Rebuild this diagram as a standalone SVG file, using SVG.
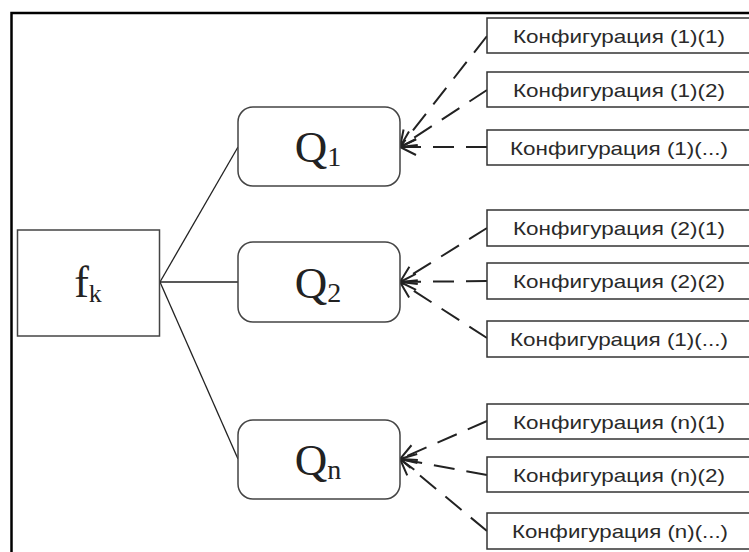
<svg xmlns="http://www.w3.org/2000/svg" width="749" height="552" viewBox="0 0 749 552">
<defs>
<marker id="arr" markerUnits="userSpaceOnUse" markerWidth="30" markerHeight="30" viewBox="-20 -15 30 30" refX="0" refY="0" orient="auto">
<path d="M-16,-8 L0,0 L-16,8" fill="none" stroke="#222" stroke-width="2"/>
</marker>
</defs>
<style>
.frame{fill:none;stroke:#000;stroke-width:2.5}
.fk{fill:#fff;stroke:#444;stroke-width:1.5}
.q{fill:#fff;stroke:#444;stroke-width:1.5}
.cfg{fill:#fff;stroke:#333;stroke-width:1.5}
.ser{font-family:"Liberation Serif","Times New Roman",serif;fill:#222}
.san{font-family:"Liberation Sans",Arial,sans-serif;font-size:18.5px;fill:#2a2a2a}
.solid{stroke:#222;stroke-width:1.3;fill:none}
.dash{stroke:#222;stroke-width:2;fill:none;stroke-dasharray:21 12;marker-end:url(#arr)}
</style>
<rect width="749" height="552" fill="#fff"/>
<rect class="frame" x="11.5" y="13" width="800" height="600"/>
<g id="connectors">
<line class="solid" x1="160" y1="282" x2="238" y2="147"/>
<line class="solid" x1="160" y1="282" x2="238" y2="282"/>
<line class="solid" x1="160" y1="282" x2="238" y2="459"/>
<line class="dash" x1="487" y1="36" x2="400" y2="147"/>
<line class="dash" x1="487" y1="90" x2="400" y2="147"/>
<line class="dash" x1="487" y1="147" x2="400" y2="147"/>
<line class="dash" x1="487" y1="228" x2="400" y2="282"/>
<line class="dash" x1="487" y1="281" x2="400" y2="282"/>
<line class="dash" x1="487" y1="338" x2="400" y2="282"/>
<line class="dash" x1="487" y1="421" x2="400" y2="459"/>
<line class="dash" x1="487" y1="475" x2="400" y2="459"/>
<line class="dash" x1="487" y1="531" x2="400" y2="459"/>
</g>
<g id="fk">
<rect class="fk" x="17.5" y="230" width="142" height="106"/>
<text class="ser" x="88" y="297" text-anchor="middle"><tspan font-size="44">f</tspan><tspan font-size="26" dy="5">k</tspan></text>
</g>
<g id="q1">
<rect class="q" x="238" y="107" width="162" height="79" rx="15"/>
<text class="ser" x="318" y="162" text-anchor="middle"><tspan font-size="45">Q</tspan><tspan font-size="28" dy="4">1</tspan></text>
</g>
<g id="q2">
<rect class="q" x="238" y="242" width="162" height="80" rx="15"/>
<text class="ser" x="318" y="298" text-anchor="middle"><tspan font-size="45">Q</tspan><tspan font-size="28" dy="4">2</tspan></text>
</g>
<g id="qn">
<rect class="q" x="238" y="420" width="162" height="79" rx="15"/>
<text class="ser" x="318" y="475" text-anchor="middle"><tspan font-size="45">Q</tspan><tspan font-size="28" dy="4">n</tspan></text>
</g>
<g id="c11"><rect class="cfg" x="487" y="18" width="300" height="35"/><text class="san" x="513" y="43" textLength="212" lengthAdjust="spacingAndGlyphs">Конфигурация (1)(1)</text></g>
<g id="c12"><rect class="cfg" x="487" y="72" width="300" height="35"/><text class="san" x="513" y="97" textLength="212" lengthAdjust="spacingAndGlyphs">Конфигурация (1)(2)</text></g>
<g id="c13"><rect class="cfg" x="487" y="130" width="300" height="35"/><text class="san" x="510" y="155" textLength="218" lengthAdjust="spacingAndGlyphs">Конфигурация (1)(...)</text></g>
<g id="c21"><rect class="cfg" x="487" y="210" width="300" height="36"/><text class="san" x="513" y="235" textLength="212" lengthAdjust="spacingAndGlyphs">Конфигурация (2)(1)</text></g>
<g id="c22"><rect class="cfg" x="487" y="263" width="300" height="36"/><text class="san" x="513" y="288" textLength="212" lengthAdjust="spacingAndGlyphs">Конфигурация (2)(2)</text></g>
<g id="c23"><rect class="cfg" x="487" y="321" width="300" height="36"/><text class="san" x="510" y="346" textLength="218" lengthAdjust="spacingAndGlyphs">Конфигурация (1)(...)</text></g>
<g id="cn1"><rect class="cfg" x="487" y="404" width="300" height="35"/><text class="san" x="513" y="429" textLength="212" lengthAdjust="spacingAndGlyphs">Конфигурация (n)(1)</text></g>
<g id="cn2"><rect class="cfg" x="487" y="457" width="300" height="35"/><text class="san" x="513" y="482" textLength="212" lengthAdjust="spacingAndGlyphs">Конфигурация (n)(2)</text></g>
<g id="cn3"><rect class="cfg" x="487" y="513" width="300" height="36"/><text class="san" x="512" y="538" textLength="216" lengthAdjust="spacingAndGlyphs">Конфигурация (n)(...)</text></g>
</svg>
